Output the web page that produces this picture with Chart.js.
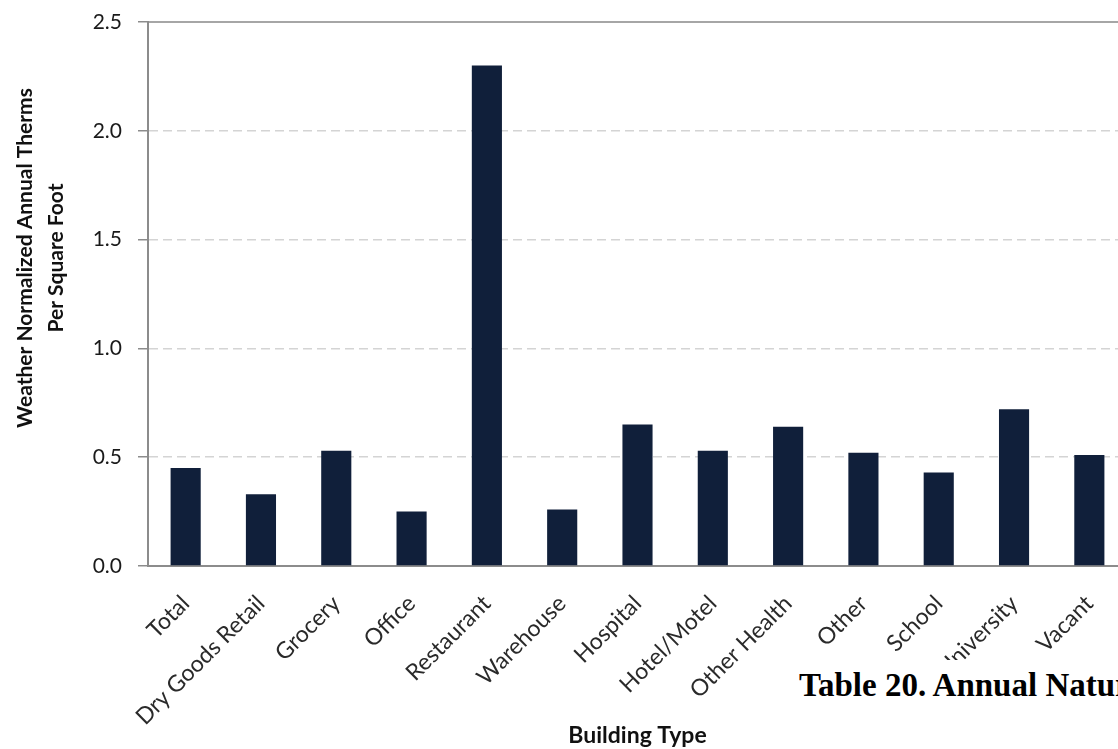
<!DOCTYPE html>
<html>
<head>
<meta charset="utf-8">
<script src="https://cdn.jsdelivr.net/npm/chart.js@4/dist/chart.umd.min.js"></script>
<style>
  html, body { margin: 0; padding: 0; background: #fff; overflow: hidden; }
  #wrap { position: absolute; left: 0; top: 0; width: 1127px; height: 749px; }
  #caption {
    position: absolute; left: 795px; top: 660px; width: 400px; height: 89px;
    background: #fff; padding: 7px 0 0 4px; box-sizing: border-box;
    font: bold 33px "Liberation Serif", serif; color: #000; white-space: nowrap;
  }
</style>
</head>
<body>
<div id="wrap"><canvas id="chart"></canvas></div>
<div id="caption">Table 20. Annual Natural</div>
<script>
var categories = ['Total', 'Dry Goods Retail', 'Grocery', 'Office', 'Restaurant', 'Warehouse',
    'Hospital', 'Hotel/Motel', 'Other Health', 'Other', 'School', 'University', 'Vacant'];
var therms = [0.45, 0.33, 0.53, 0.25, 2.30, 0.26, 0.65, 0.53, 0.64, 0.52, 0.43, 0.72, 0.51];
var yTicks = [0, 0.5, 1.0, 1.5, 2.0, 2.5];
var yTitle = ['Weather Normalized Annual Therms', 'Per Square Foot'];
var xTitle = 'Building Type';

var labelFont = 'Lato, "Open Sans", sans-serif';

// y title sits higher than the plot centre, so draw it by hand
var yTitlePlugin = {
    id: 'yTitle',
    afterDraw: function (chart) {
        var ctx = chart.ctx;
        ctx.save();
        ctx.translate(0, 258);
        ctx.rotate(-Math.PI / 2);
        ctx.font = 'bold 21px ' + labelFont;
        ctx.fillStyle = '#111';
        ctx.textAlign = 'center';
        ctx.textBaseline = 'middle';
        ctx.fillText(yTitle[0], 0, 25);
        ctx.fillText(yTitle[1], 0, 56);
        ctx.restore();
    }
};

var ctx = document.getElementById('chart').getContext('2d');
var chart = new Chart(ctx, {
    type: 'bar',
    data: {
        labels: categories,
        datasets: [{
            label: 'Therms per sq ft',
            data: therms,
            backgroundColor: '#101f3a',
            borderWidth: 0,
            barPercentage: 0.8,
            categoryPercentage: 0.5
        }]
    },
    options: {
        responsive: true,
        maintainAspectRatio: false,
        animation: false,
        layout: { padding: { left: 88, top: 22, right: 0, bottom: 0 } },
        plugins: { legend: { display: false }, tooltip: { enabled: false } },
        scales: {
            x: {
                grid: { display: false },
                border: { color: '#8c8c8c', width: 2 },
                ticks: {
                    color: '#2a2a2a',
                    font: { family: labelFont, size: 23 },
                    minRotation: 45, maxRotation: 45,
                    autoSkip: false, padding: 16
                },
                title: {
                    display: true, text: xTitle, color: '#111',
                    font: { family: labelFont, size: 23, weight: 'bold' },
                    padding: { top: 0, bottom: 0 }
                },
                afterFit: function (s) { s.height = 183; }
            },
            xTop: {
                position: 'top',
                grid: { display: false },
                ticks: { display: false },
                border: { color: '#a6a6a6', width: 2 },
                afterFit: function (s) { s.height = 0; }
            },
            y: {
                min: 0, max: 2.5,
                afterBuildTicks: function (s) { s.ticks = yTicks.map(function (v) { return { value: v }; }); },
                grid: {
                    color: function (c) { return c.tick && c.tick.value === 2.5 ? 'rgba(0,0,0,0)' : '#d4d4d4'; },
                    tickColor: '#8c8c8c',
                    tickLength: 10,
                    lineWidth: 1.5
                },
                border: { color: '#8c8c8c', width: 2, dash: [9, 5] },
                ticks: {
                    color: '#1a1a1a',
                    font: { family: labelFont, size: 21 },
                    padding: 16,
                    callback: function (v) { return Number(v).toFixed(1); }
                },
                afterFit: function (s) { s.width = 60; s.paddingTop = 0; s.paddingBottom = 0; }
            }
        }
    },
    plugins: [yTitlePlugin]
});
</script>
</body>
</html>
